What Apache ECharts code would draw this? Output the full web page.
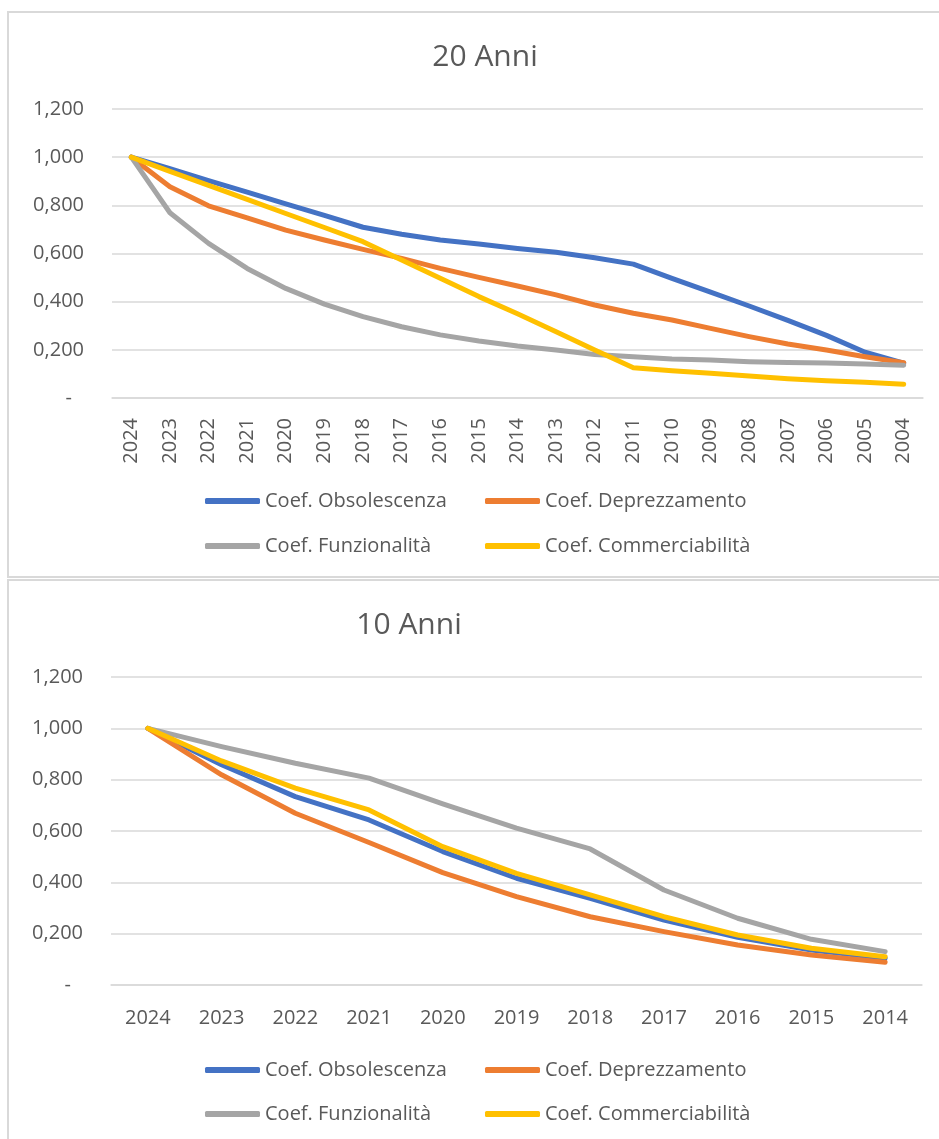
<!DOCTYPE html>
<html>
<head>
<meta charset="utf-8">
<script src="https://cdn.jsdelivr.net/npm/echarts@6/dist/echarts.min.js"></script>
<style>
  html, body { margin: 0; padding: 0; background: #fff; }
  #chart { width: 939px; height: 1139px; }
</style>
</head>
<body>
<div id="chart"></div>
<script>
// 20 anni
const years20 = ['2024', '2023', '2022', '2021', '2020', '2019', '2018', '2017', '2016', '2015', '2014',
  '2013', '2012', '2011', '2010', '2009', '2008', '2007', '2006', '2005', '2004'];
const obs20 = [1.000, 0.952, 0.903, 0.855, 0.806, 0.758, 0.709, 0.680, 0.656, 0.639, 0.621,
  0.605, 0.582, 0.556, 0.497, 0.440, 0.382, 0.322, 0.260, 0.190, 0.145];
const dep20 = [1.000, 0.877, 0.798, 0.748, 0.697, 0.656, 0.617, 0.580, 0.538, 0.501, 0.465,
  0.428, 0.386, 0.352, 0.324, 0.289, 0.255, 0.224, 0.199, 0.171, 0.146];
const fun20 = [1.000, 0.769, 0.642, 0.538, 0.455, 0.390, 0.338, 0.296, 0.262, 0.237, 0.216,
  0.199, 0.181, 0.171, 0.162, 0.158, 0.151, 0.147, 0.145, 0.141, 0.136];
const com20 = [1.000, 0.941, 0.883, 0.825, 0.766, 0.708, 0.649, 0.573, 0.497, 0.421, 0.350,
  0.275, 0.199, 0.126, 0.113, 0.103, 0.091, 0.080, 0.072, 0.065, 0.057];

// 10 anni
const years10 = ['2024', '2023', '2022', '2021', '2020', '2019', '2018', '2017', '2016', '2015', '2014'];
const obs10 = [1.000, 0.858, 0.734, 0.643, 0.520, 0.416, 0.338, 0.253, 0.186, 0.136, 0.104];
const dep10 = [1.000, 0.819, 0.669, 0.555, 0.438, 0.344, 0.266, 0.208, 0.156, 0.117, 0.089];
const fun10 = [1.000, 0.929, 0.864, 0.806, 0.706, 0.611, 0.530, 0.370, 0.260, 0.178, 0.130];
const com10 = [1.000, 0.873, 0.767, 0.682, 0.539, 0.435, 0.351, 0.266, 0.195, 0.143, 0.110];

const names = ['Coef. Obsolescenza', 'Coef. Deprezzamento', 'Coef. Funzionalità', 'Coef. Commerciabilità'];
const colors = ['#4472C4', '#ED7D31', '#A5A5A5', '#FFC000'];

const FONT = "'Open Sans', 'Noto Sans', sans-serif";
const TXT = '#595959';
const GRID_COLOR = '#d9d9d9';

/** etichette asse y: 1,200 ... e "-" per lo zero */
const yLabel = (v) => (v === 0 ? '{d|-}' : v.toFixed(3).replace('.', ','));

const makeY = (gridIndex) => ({
  type: 'value',
  gridIndex: gridIndex,
  min: 0,
  max: 1.2,
  interval: 0.2,
  axisLine: { show: false },
  axisTick: { show: false },
  splitLine: { lineStyle: { color: GRID_COLOR, width: 1.5 } },
  axisLabel: {
    formatter: yLabel,
    margin: 28,
    color: TXT,
    fontSize: 20,
    fontFamily: FONT,
    rich: { d: { padding: [0, 12, 0, 0], color: TXT, fontSize: 20, fontFamily: FONT } },
  },
});

const makeSeries = (data, idx, axisIndex) => ({
  name: names[idx],
  type: 'line',
  xAxisIndex: axisIndex,
  yAxisIndex: axisIndex,
  data: data,
  showSymbol: false,
  symbol: 'none',
  smooth: false,
  z: 2 + idx,
  lineStyle: { color: colors[idx], width: 5, cap: 'round', join: 'round' },
  itemStyle: { color: colors[idx] },
});

const makeLegend = (items, left, top, gap) => ({
  orient: 'vertical',
  left: left,
  top: top,
  padding: 0,
  data: items,
  icon: 'roundRect',
  itemWidth: 55,
  itemHeight: 6,
  itemGap: gap,
  textStyle: { color: TXT, fontSize: 20, fontFamily: FONT, lineHeight: 24 },
});

const chart = echarts.init(document.getElementById('chart'));

const option = {
  animation: false,
  backgroundColor: '#fff',
  title: [
    {
      text: '20 Anni',
      left: 480,
      top: 37,
      textAlign: 'center',
      textStyle: { color: TXT, fontSize: 30, fontWeight: 'normal', fontFamily: FONT },
    },
    {
      text: '10 Anni',
      left: 404,
      top: 605,
      textAlign: 'center',
      textStyle: { color: TXT, fontSize: 30, fontWeight: 'normal', fontFamily: FONT },
    },
  ],
  graphic: [
    {
      type: 'rect',
      shape: { x: 8, y: 12, width: 940, height: 565 },
      style: { fill: 'none', stroke: GRID_COLOR, lineWidth: 2 },
      silent: true,
    },
    {
      type: 'rect',
      shape: { x: 8, y: 580, width: 940, height: 570 },
      style: { fill: 'none', stroke: GRID_COLOR, lineWidth: 2 },
      silent: true,
    },
  ],
  legend: [
    makeLegend([names[0], names[2]], 205, 489, 21),
    makeLegend([names[1], names[3]], 485, 489, 21),
    makeLegend([names[0], names[2]], 205, 1058, 20),
    makeLegend([names[1], names[3]], 485, 1058, 20),
  ],
  grid: [
    { left: 112, right: 16, top: 109, height: 289, containLabel: false },
    { left: 111, right: 17, top: 677, height: 308, containLabel: false },
  ],
  xAxis: [
    {
      type: 'category',
      gridIndex: 0,
      data: years20,
      boundaryGap: true,
      axisTick: { show: false },
      axisLine: { lineStyle: { color: GRID_COLOR, width: 1.5 } },
      axisLabel: { rotate: 90, margin: 20, color: TXT, fontSize: 20, fontFamily: FONT, interval: 0 },
    },
    {
      type: 'category',
      gridIndex: 1,
      data: years10,
      boundaryGap: true,
      axisTick: { show: false },
      axisLine: { lineStyle: { color: GRID_COLOR, width: 1.5 } },
      axisLabel: { margin: 23, color: TXT, fontSize: 20, fontFamily: FONT, interval: 0 },
    },
  ],
  yAxis: [makeY(0), makeY(1)],
  series: [
    makeSeries(obs20, 0, 0),
    makeSeries(dep20, 1, 0),
    makeSeries(fun20, 2, 0),
    makeSeries(com20, 3, 0),
    makeSeries(obs10, 0, 1),
    makeSeries(dep10, 1, 1),
    makeSeries(fun10, 2, 1),
    makeSeries(com10, 3, 1),
  ],
};

chart.setOption(option);
</script>
</body>
</html>
